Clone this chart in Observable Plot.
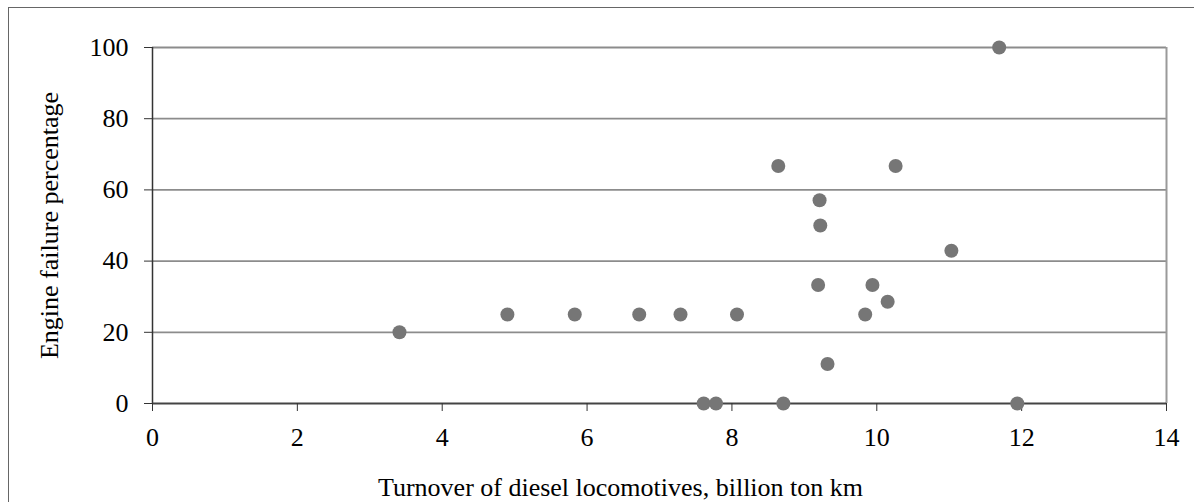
<!DOCTYPE html>
<html>
<head>
<meta charset="utf-8">
<script src="https://cdn.jsdelivr.net/npm/d3@7"></script>
<script src="https://cdn.jsdelivr.net/npm/@observablehq/plot@0.6"></script>
<style>
  html, body { margin: 0; padding: 0; background: #fff; }
  #wrap { position: relative; width: 1194px; height: 502px; overflow: hidden; }
  #border { position: absolute; left: 8px; top: 7px; width: 1300px; height: 700px;
            border-left: 1.5px solid #666; border-top: 1.5px solid #666; pointer-events: none; }
  svg { display: block; }
</style>
</head>
<body>
<div id="wrap"><div id="border"></div></div>
<script>
// Data
const turnover = [3.41, 4.90, 5.83, 6.72, 7.29, 8.07, 7.61, 7.78, 8.71, 11.94,
                  8.64, 10.26, 9.21, 9.22, 9.19, 9.94, 10.15, 9.84, 9.32, 11.03, 11.69];
const failurePct = [20, 25, 25, 25, 25, 25, 0, 0, 0, 0,
                    66.7, 66.7, 57.1, 50, 33.3, 33.3, 28.6, 25, 11.1, 42.9, 100];
const xTicks = [0, 2, 4, 6, 8, 10, 12, 14];
const yTicks = [0, 20, 40, 60, 80, 100];
const xTitle = "Turnover of diesel locomotives, billion ton km";
const yTitle = "Engine failure percentage";

const points = turnover.map((x, i) => ({x, y: failurePct[i]}));
const font = "'Liberation Serif', 'Times New Roman', serif";

const chart = Plot.plot({
  width: 1194,
  height: 502,
  marginLeft: 152,
  marginRight: 28,
  marginTop: 47,
  marginBottom: 99,
  style: {fontFamily: font, fontSize: "26px", color: "#000", background: "transparent"},
  x: {domain: [0, 14]},
  y: {domain: [0, 100]},
  marks: [
    Plot.ruleY(yTicks.filter(d => d > 0), {stroke: "#8c8c8c", strokeWidth: 1.8}),
    Plot.ruleX([14], {stroke: "#9a9a9a", strokeWidth: 2}),
    Plot.ruleX([0], {stroke: "#333", strokeWidth: 1.5}),
    Plot.ruleY([0], {stroke: "#444", strokeWidth: 2.2}),
    Plot.axisX({ticks: xTicks, tickSize: 8, tickPadding: 16, label: null, stroke: "#333", fontSize: 26, fill: "#000"}),
    Plot.axisY({ticks: yTicks, tickSize: 8, tickPadding: 16, label: null, stroke: "#333", fontSize: 26, fill: "#000"}),
    Plot.dot(points, {x: "x", y: "y", r: 7, fill: "#767676", stroke: "none"}),
    Plot.text([xTitle], {frameAnchor: "bottom", dx: -39, dy: 84, lineAnchor: "middle", textAnchor: "middle", fontSize: 26, fill: "#000"}),
    Plot.text([yTitle], {frameAnchor: "left", dx: -103, rotate: -90, lineAnchor: "middle", textAnchor: "middle", fontSize: 26, fill: "#000"})
  ]
});
document.getElementById("wrap").appendChild(chart);
chart.style.position = "absolute";
chart.style.left = "0px";
chart.style.top = "0px";
</script>
</body>
</html>
